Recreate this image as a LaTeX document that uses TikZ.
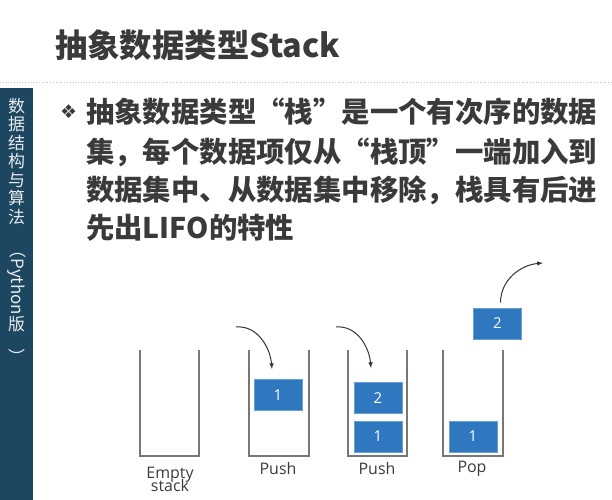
\documentclass[tikz,border=0pt]{standalone}
\usepackage{fontspec}
\setmainfont{Open Sans}
\newfontfamily\cjk{Noto Sans CJK SC}
\newfontfamily\dejavu{DejaVu Sans}
\usepackage{xcolor}
\usetikzlibrary{calc}
\definecolor{sidebar}{HTML}{1D4660}
\definecolor{itemblue}{HTML}{2F78BF}
\definecolor{textgray}{HTML}{3A3A3A}
\definecolor{wallgray}{HTML}{777777}
\tikzset{
  wall/.style={wallgray, line width=1.5pt},
  item/.style={fill=itemblue, draw=itemblue!70!white, line width=0.8pt, minimum width=48bp, minimum height=31bp, inner sep=0pt, text=white, font=\fontsize{15}{15}\selectfont},
  caption/.style={font=\fontsize{16}{18}\selectfont, text=textgray, align=center},
  move/.style={-latex, line width=1pt, textgray!90!black},
  line/.style={anchor=west, font=\cjk\bfseries\fontsize{28.5}{28.5}\selectfont, text=textgray, inner sep=0pt}
}
\begin{document}
\begin{tikzpicture}[x=1bp, y=-1bp]
  \useasboundingbox (0,0) rectangle (612,500);
  \clip (0,0) rectangle (612,500);
  % Title and separator
  \node[anchor=west, inner sep=0pt, font=\cjk\bfseries\fontsize{32.5}{32.5}\selectfont, text=textgray] (title) at (55,45) {抽象数据类型Stack};
  \draw[gray!50, dotted, line width=0.8pt] (0,82) -- (612,82);

  % Sidebar
  \fill[sidebar] (0,88) rectangle (33,500);
  \node[anchor=north, inner sep=0pt, text=white!90!sidebar, font=\cjk\fontsize{17}{18.5}\selectfont, align=center] (side) at (16.5,98)
    {数\\据\\结\\构\\与\\算\\法\\\rotatebox{-90}{（Python}\\版\\\rotatebox{-90}{）}};

  % Bullet text
  \node[anchor=west, inner sep=0pt, font=\dejavu\fontsize{19}{19}\selectfont, text=textgray] (bullet) at (60,112) {❖};
  \node[line] (l1) at (86,112) {抽象数据类型“栈”是一个有次序的数据};
  \node[line] (l2) at (86,152) {集，每个数据项仅从“栈顶”一端加入到};
  \node[line] (l3) at (86,190) {数据集中、从数据集中移除，栈具有后进};
  \node[line] (l4) at (86,228) {先出LIFO的特性};

  % Stacks
  \foreach \xl/\xr in {140/199, 249/309, 348/407, 443/503}
    \draw[wall] (\xl,350) -- (\xl,456) -- (\xr,456) -- (\xr,350);

  % Items
  \node[item] (push1a) at (278,395) {1};
  \node[item] (push2b) at (378,398) {2};
  \node[item] (push2a) at (378,436.5) {1};
  \node[item] (pop1) at (473,436.5) {1};
  \node[item] (pop2) at (497.5,323.5) {2};

  % Captions
  \node[caption] (c1) at (170,479) {Empty\\[-5pt]stack};
  \node[caption] (c2) at (278,469) {Push};
  \node[caption] (c3) at (377,469) {Push};
  \node[caption] (c4) at (472,469) {Pop};

  % Moves
  \coordinate (in1) at (236,327);
  \coordinate (in2) at (336,327);
  \coordinate (out) at (543,263);
  \draw[move] (in1) to[out=5, in=95] ($(push1a.north)+(-6,-10)$);
  \draw[move] (in2) to[out=5, in=95] ($(push2b.north)+(-7,-14)$);
  \draw[move] ($(pop2.north)+(3,-5)$) to[out=90, in=185] (out);
\end{tikzpicture}
\end{document}
